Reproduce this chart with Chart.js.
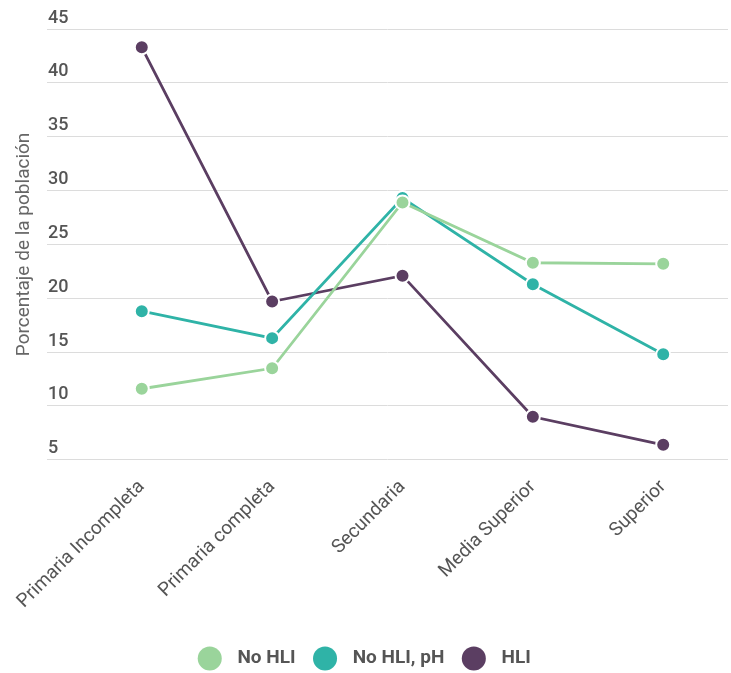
<!DOCTYPE html>
<html><head><meta charset="utf-8">
<script src="https://cdn.jsdelivr.net/npm/chart.js@4.4.1/dist/chart.umd.min.js"></script>
<style>html,body{margin:0;padding:0;background:#fff}#wrap{width:731px;height:673px}</style>
</head><body><div id="wrap"><canvas id="c" width="731" height="673"></canvas></div>
<script>
const categories = ["Primaria Incompleta", "Primaria completa", "Secundaria", "Media Superior", "Superior"];
const noHLI = [11.6, 13.5, 28.9, 23.3, 23.2];
const noHLIpH = [18.8, 16.3, 29.3, 21.3, 14.8];
const HLI = [43.3, 19.7, 22.1, 9.0, 6.4];
const yTicks = [5, 10, 15, 20, 25, 30, 35, 40, 45];

const colors = {noHLI: "#9ad49b", noHLIpH: "#2fb3a7", HLI: "#5b3e62"};
const toPts = arr => arr.map((v, i) => ({x: i, y: v}));
const mk = (label, data, col) => ({
  label, data: toPts(data), borderColor: col, backgroundColor: col,
  pointBackgroundColor: col, pointBorderColor: "#fff", pointBorderWidth: 2,
  pointRadius: 7, pointHoverRadius: 7, borderWidth: 2.8, tension: 0
});
const fontFam = "Roboto, 'Noto Sans', sans-serif";
new Chart(document.getElementById("c"), {
  type: "line",
  data: {datasets: [
    mk("No HLI", noHLI, colors.noHLI),
    mk("No HLI, pH", noHLIpH, colors.noHLIpH),
    mk("HLI", HLI, colors.HLI)
  ]},
  options: {
    responsive: false, animation: false,
    layout: {autoPadding: false, padding: {top: 29, right: 3, left: 4, bottom: -5}},
    plugins: {
      tooltip: {enabled: false},
      legend: {position: "bottom", labels: {
        usePointStyle: true, pointStyle: "circle", boxWidth: 17, boxHeight: 17,
        padding: 21, color: "#555",
        font: {family: fontFam, size: 19, weight: "bold"},
        generateLabels: ch => ch.data.datasets.map((d, i) => ({
          text: "\u2002" + d.label, fillStyle: d.borderColor, strokeStyle: d.borderColor,
          lineWidth: 0, pointStyle: "circle", datasetIndex: i, fontColor: "#555"
        }))
      }}
    },
    scales: {
      x: {
        type: "linear", min: -0.727, max: 4.497,
        afterBuildTicks: s => { s.ticks = categories.map((c, i) => ({value: i})); },
        afterFit: s => { s.height += 7; s.paddingLeft = 0; s.paddingRight = 0; },
        ticks: {
          callback: v => categories[v], autoSkip: false,
          maxRotation: 45, minRotation: 45, color: "#555", padding: 8,
          font: {family: fontFam, size: 19}
        },
        grid: {display: false}, border: {display: false}
      },
      y: {
        min: 5, max: 45,
        afterBuildTicks: s => { s.ticks = yTicks.map(v => ({value: v})); },
        ticks: {mirror: true, padding: 1, labelOffset: -11, color: "#555",
          font: {family: fontFam, size: 18, weight: "500"}},
        grid: {color: "#dcdcdc", lineWidth: 1, drawTicks: false},
        border: {display: false},
        title: {display: true, text: "Porcentaje de la población", color: "#666",
          font: {family: fontFam, size: 19}, padding: {top: 8.6, bottom: 9.6}}
      }
    }
  }
});
</script></body></html>
